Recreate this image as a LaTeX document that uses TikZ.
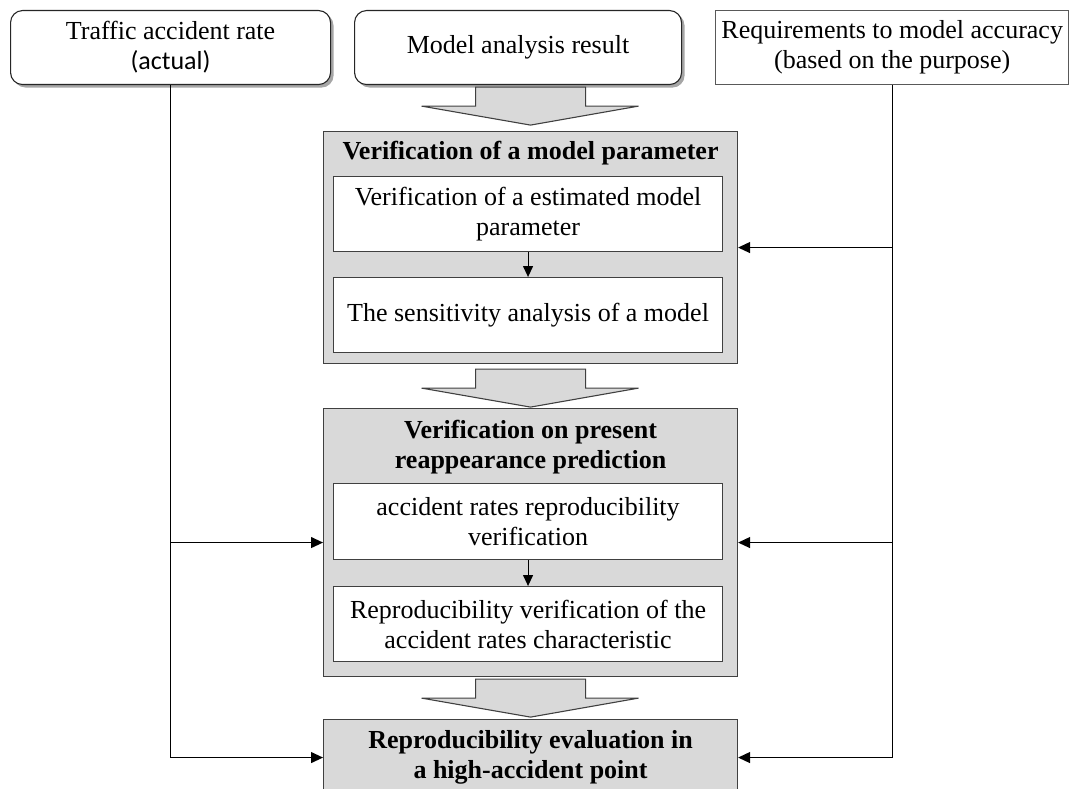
\documentclass[tikz,border=0pt]{standalone}
\usepackage{fontspec}
\setmainfont{Liberation Serif}
\newfontfamily\calib{Carlito}
\usetikzlibrary{arrows.meta,shadows,calc}
\definecolor{gfill}{RGB}{217,217,217}
\definecolor{edge}{RGB}{64,64,64}
\begin{document}
\begin{tikzpicture}[x=1pt,y=-1pt,
  font=\fontsize{26}{30}\selectfont,
  base/.style={align=center, inner sep=0pt, anchor=north west},
  rbox/.style={base, draw=black!85, line width=1.1pt, rounded corners=12pt, fill=white,
    drop shadow={shadow xshift=3pt, shadow yshift=-3pt, fill=black, opacity=0.35}},
  sbox/.style={base, draw=black!65, line width=1.4pt, fill=white},
  graybox/.style={base, draw=edge, line width=1.1pt, fill=gfill},
  inbox/.style={base, draw=edge, line width=1.1pt, fill=white},
  title/.style={align=center, inner sep=0pt, font=\fontsize{26}{30}\selectfont\bfseries},
  conn/.style={line width=1.1pt, -{Triangle[length=12pt,width=11pt]}},
  sconn/.style={line width=1.1pt, -{Triangle[length=11pt,width=10pt]}},
  barrow/.pic={\draw[draw=edge, line width=1.1pt, fill=gfill]
     (-55,0) -- (55,0) -- (55,19) -- (108,19) -- (0,38) -- (-109,19) -- (-55,19) -- cycle;}
]
\clip (0,0) rectangle (1070,789);

\node[rbox, minimum width=320pt, minimum height=74pt] (A) at (10,10)
  {Traffic accident rate\\{\calib (actual)}};
\node[rbox, minimum width=327pt, minimum height=74pt] (B) at (354,10)
  {Model analysis result};
\node[sbox, minimum width=353pt, minimum height=74pt] (C) at (715,10)
  {Requirements to model accuracy\\(based on the purpose)};

\node[graybox, minimum width=414pt, minimum height=232pt] (g1) at (323,131) {};
\node[title] (t1) at ($(g1.north)+(0,22)$) {Verification of a model parameter};
\node[inbox, minimum width=389pt, minimum height=75pt] (i1a) at (333,176)
  {Verification of a estimated model\\parameter};
\node[inbox, minimum width=389pt, minimum height=75pt] (i1b) at (333,277)
  {The sensitivity analysis of a model};

\node[graybox, minimum width=414pt, minimum height=268pt] (g2) at (323,408) {};
\node[title] (t2) at ($(g2.north)+(0,39)$) {Verification on present\\reappearance prediction};
\node[inbox, minimum width=389pt, minimum height=76pt] (i2a) at (333,483)
  {accident rates reproducibility\\verification};
\node[inbox, minimum width=389pt, minimum height=75pt] (i2b) at (333,586)
  {Reproducibility verification of the\\accident rates characteristic};

\node[graybox, minimum width=414pt, minimum height=76pt, font=\fontsize{26}{30}\selectfont\bfseries] (g3) at (323,719)
  {Reproducibility evaluation in\\a high-accident point};

\pic at ($(B.south -| g1.north)+(0,2)$) {barrow};
\pic at ($(g1.south)+(0,5)$) {barrow};
\pic at ($(g2.south)+(0,2)$) {barrow};

\draw[sconn] (i1a) -- (i1b);
\draw[sconn] (i2a) -- (i2b);

\draw[conn] (A.south) |- (g2.west);
\draw[conn] (A.south) |- (g3.west);
\draw[conn] (C.south) |- (g1.east);
\draw[conn] (C.south) |- (g2.east);
\draw[conn] (C.south) |- (g3.east);
\end{tikzpicture}
\end{document}
